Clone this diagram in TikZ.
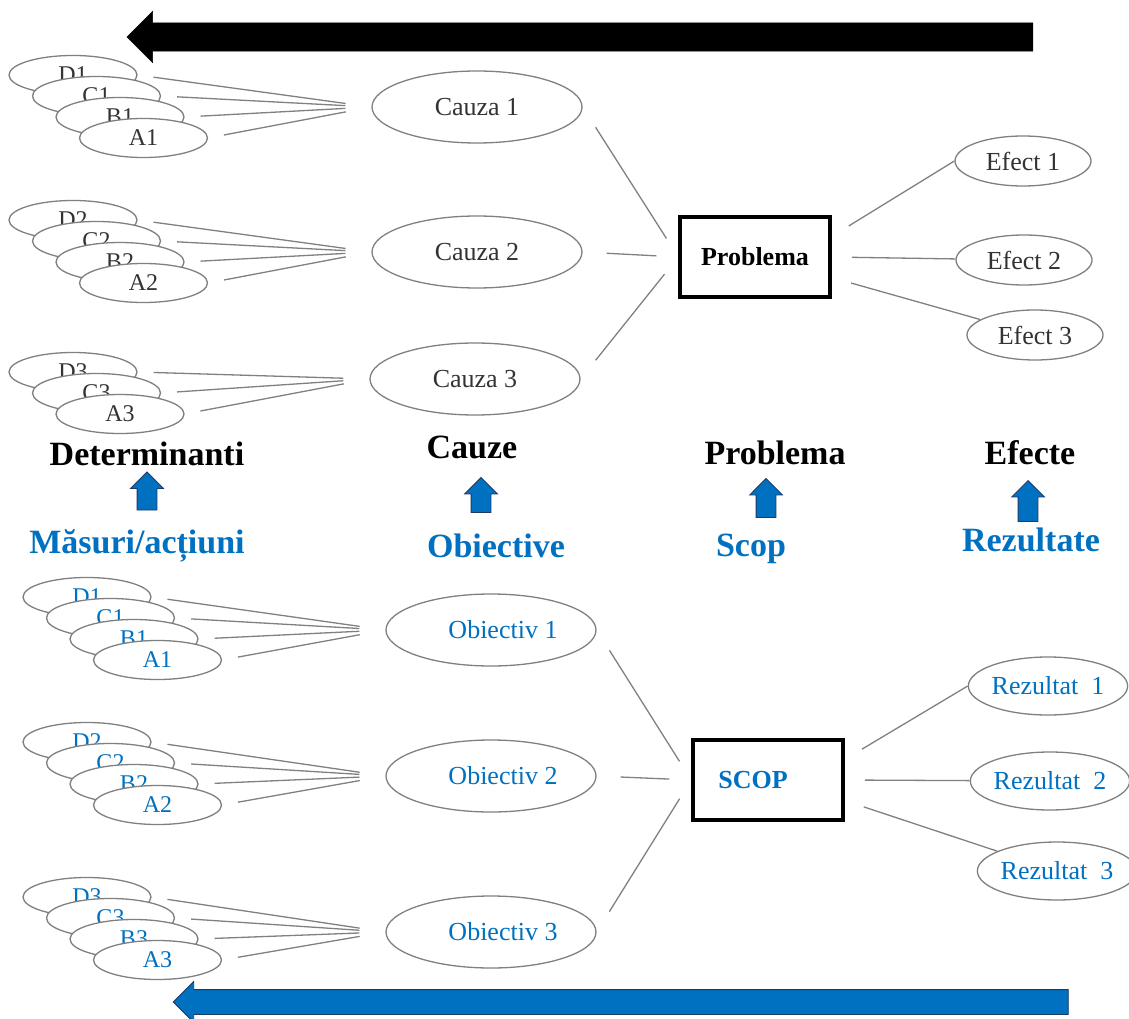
\documentclass[tikz,border=0pt]{standalone}
\usepackage{fontspec}
\setmainfont{Liberation Serif}
\usetikzlibrary{shapes.geometric,shapes.arrows,positioning}

\definecolor{ppblue}{HTML}{0070C0}
\definecolor{ppgray}{HTML}{808080}
\definecolor{ppnavy}{HTML}{1F3864}

\begin{document}
\begin{tikzpicture}[x=1pt, y=-1pt,
    oval/.style={ellipse, draw=ppgray, line width=1.3pt, fill=white, inner sep=0pt},
    detoval/.style={oval, minimum width=128pt, minimum height=39pt, font=\fontsize{24}{24}\selectfont},
    cause/.style={oval, minimum width=210pt, minimum height=72pt, font=\fontsize{26}{26}\selectfont},
    effect/.style={oval, minimum width=136pt, minimum height=50pt, font=\fontsize{26}{26}\selectfont},
    result/.style={oval, minimum width=157pt, minimum height=58pt, font=\fontsize{26}{26}\selectfont},
    core/.style={draw, line width=3.5pt, minimum width=150pt, minimum height=80pt, font=\bfseries\fontsize{26}{26}\selectfont},
    colhead/.style={anchor=base, font=\bfseries\fontsize{34}{34}\selectfont},
    fan/.style={draw=ppgray, line width=1.3pt, shorten <=16pt, shorten >=26pt},
    spoke/.style={draw=ppgray, line width=1.3pt, shorten <=24pt, shorten >=22pt},
    ray/.style={draw=ppgray, line width=1.3pt, shorten <=20pt},
    flow/.style={single arrow, rotate=180, inner xsep=0pt},
    lift/.style={single arrow, rotate=90, draw=ppnavy, fill=ppblue, line width=0.8pt,
        inner xsep=0pt, inner ysep=9.5pt, single arrow head extend=6.5pt}
]
    \useasboundingbox (0,0) rectangle (1129,1019);

    % Big flow arrows
    \node[flow, draw=black, fill=black, minimum height=906pt, inner ysep=14pt,
        single arrow head extend=11.5pt] (flowtop) at (587,37) {};
    \node[flow, draw=ppnavy, fill=ppblue, line width=0.8pt, minimum height=895pt, inner ysep=12pt,
        single arrow head extend=8pt] (flowbot) at (627,1002) {};

    % Problem tree
    \node[core] (prob) at (755,257) {Problema};
    \node[cause, text=black!80] (c1) at (477,107) {Cauza 1};
    \node[cause, text=black!80] (c2) at (477,252) {Cauza 2};
    \node[cause, text=black!80] (c3) at (475,379) {Cauza 3};
    \node[effect, text=black!80] (e1) at (1023,161) {Efect 1};
    \node[effect, text=black!80] (e2) at (1024,260) {Efect 2};
    \node[effect, text=black!80] (e3) at (1035,335) {Efect 3};

    \draw[spoke] (c1.east) -- (prob.west);
    \draw[spoke] (c2.east) -- (prob.west);
    \draw[spoke] (c3.east) -- (prob.west);
    \draw[ray] (prob.15) -- (e1.west);
    \draw[ray] (prob.east) -- (e2);
    \draw[ray] (prob.-15) -- (e3);

    % Determinants of each cause
    \foreach \g/\y/\list in {1/75/{D1,C1,B1,A1}, 2/220/{D2,C2,B2,A2}, 3/372/{D3,C3,A3}} {
        \foreach \lbl [count=\i from 0] in \list {
            \node[detoval, text=black!80] (t\lbl) at (73+23.5*\i, \y+21*\i) {\lbl};
            \draw[fan] (t\lbl.east) -- (c\g.west);
        }
    }

    % Column titles
    \node[colhead] (hdet) at (147,465) {Determinanti};
    \node[colhead] (hcauze) at (472,458) {Cauze};
    \node[colhead] (hprob) at (775,464) {Problema};
    \node[colhead] (hefect) at (1030,464) {Efecte};
    \node[colhead, ppblue] (hmas) at (137,553) {Măsuri/acțiuni};
    \node[colhead, ppblue] (hobj) at (496,557) {Obiective};
    \node[colhead, ppblue] (hscop) at (751,556) {Scop};
    \node[colhead, ppblue] (hrez) at (1031,551) {Rezultate};

    \node[lift, minimum height=38pt] (up1) at (147,496) {};
    \node[lift, minimum height=35pt] (up2) at (481,500) {};
    \node[lift, minimum height=39pt] (up3) at (766,503) {};
    \node[lift, minimum height=41pt] (up4) at (1028,506) {};

    % Objective tree
    \node[core, text=ppblue] (scop) at (768,780) {SCOP\hspace*{30pt}};
    \node[cause, text=ppblue] (o1) at (491,630) {\hspace{24pt}Obiectiv 1};
    \node[cause, text=ppblue] (o2) at (491,776) {\hspace{24pt}Obiectiv 2};
    \node[cause, text=ppblue] (o3) at (491,932) {\hspace{24pt}Obiectiv 3};
    \node[result, text=ppblue] (r1) at (1048,686) {Rezultat\enspace 1};
    \node[result, text=ppblue] (r2) at (1050,781) {Rezultat\enspace 2};
    \node[result, text=ppblue] (r3) at (1057,871) {Rezultat\enspace 3};

    \draw[spoke] (o1.east) -- (scop.west);
    \draw[spoke] (o2.east) -- (scop.west);
    \draw[spoke] (o3.east) -- (scop.west);
    \draw[ray] (scop.15) -- (r1.west);
    \draw[ray] (scop.east) -- (r2);
    \draw[ray] (scop.-15) -- (r3);

    % Actions for each objective
    \foreach \g/\y/\list in {1/597/{D1,C1,B1,A1}, 2/742/{D2,C2,B2,A2}, 3/897/{D3,C3,B3,A3}} {
        \foreach \lbl [count=\i from 0] in \list {
            \node[detoval, text=ppblue] (b\lbl) at (87+23.5*\i, \y+21*\i) {\lbl};
            \draw[fan] (b\lbl.east) -- (o\g.west);
        }
    }
\end{tikzpicture}
\end{document}
